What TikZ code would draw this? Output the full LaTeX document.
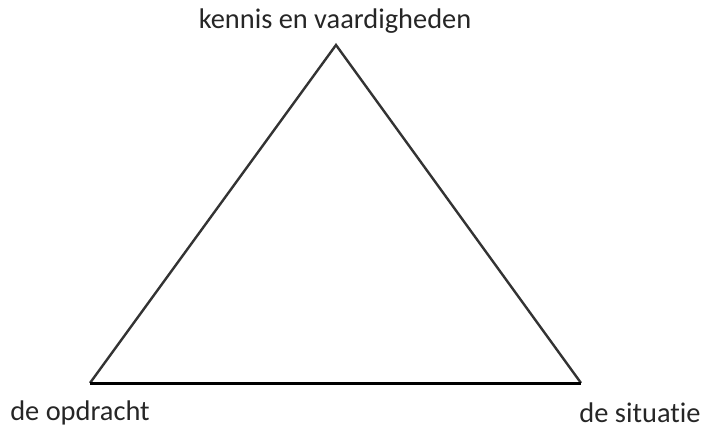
\documentclass[tikz,border=0pt]{standalone}
\usepackage{fontspec}
\setmainfont[Ligatures=NoCommon]{Carlito}
\usetikzlibrary{positioning}
\definecolor{edgegray}{HTML}{333333}

\begin{document}
\begin{tikzpicture}[
    x=0.5pt, y=-0.5pt,
    every node/.style={font=\fontsize{14.2}{16}\selectfont, text=black!85, inner sep=0pt},
    side/.style={draw=edgegray, line width=1.2pt},
    base/.style={draw=black, line width=1.5pt},
]
\useasboundingbox (0,0) rectangle (705,427);

% Corners
\coordinate (top) at (336,45);
\coordinate (left) at (90,383);
\coordinate (right) at (581,383);

% Labels
\node (kennis) at (335,21) {kennis en vaardigheden};
\node (opdracht) at (80,413) {de opdracht};
\node (situatie) at (640,413) {de situatie};

% Triangle
\draw[side] (left) -- (top) -- (right);
\draw[base] (left) -- (right);

\end{tikzpicture}
\end{document}
